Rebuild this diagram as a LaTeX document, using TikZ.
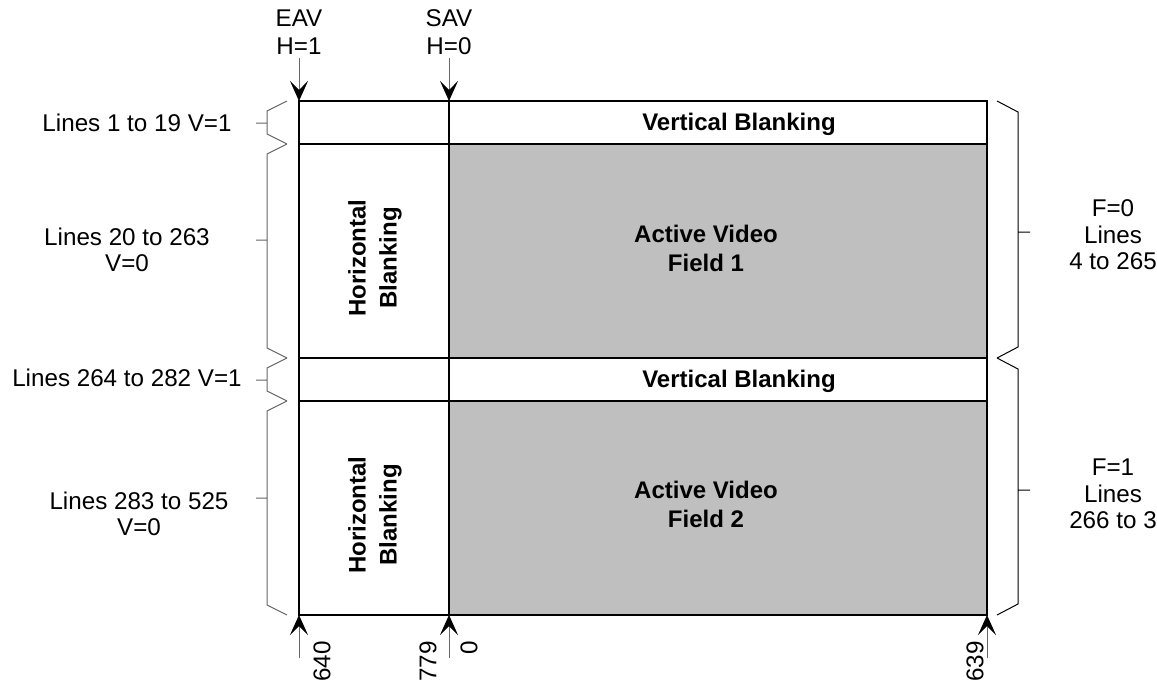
\documentclass[tikz,border=0pt]{standalone}
\usepackage{fontspec}
\setmainfont{Liberation Sans}
\usetikzlibrary{arrows.meta}

\begin{document}
\begin{tikzpicture}[x=0.5pt,y=-0.5pt,
	every node/.style={font=\fontsize{12.1}{13.3}\selectfont,align=center,inner sep=0pt},
	lbl/.style={font=\fontsize{12}{14.5}\selectfont\bfseries},
	area/.style={draw=black,line width=0.8pt},
	brace/.style={draw=black!60,line width=0.5pt},
	rbrace/.style={draw=black,line width=0.5pt},
	pointer/.style={draw=black!60,line width=0.5pt,-{Stealth[length=10pt,width=9pt,inset=4.5pt,color=black]}}]
\useasboundingbox (0,0) rectangle (1157,686);

\coordinate (tl) at (299,101);
\coordinate (tm) at (449,101);
\coordinate (bl) at (299,615);
\coordinate (bm) at (449,615);
\coordinate (br) at (987,615);

\fill[black!25] (449,144) rectangle (987,358) (449,401) rectangle (987,615);
\draw[area] (tl) rectangle (987,101 |- br);
\draw[area] (299,144) -- (987,144) (299,358) -- (987,358) (299,401) -- (987,401);
\draw[area] (tm) -- (bm);

\node[lbl] (vb1) at (739,124) {Vertical Blanking};
\node[lbl] (vb2) at (739,381) {Vertical Blanking};
\node[lbl] (av1) at (706,248) {Active Video\\Field 1};
\node[lbl] (av2) at (706,504) {Active Video\\Field 2};
\node[lbl,rotate=90] (hb1) at (375,258) {Horizontal\\[1pt]Blanking};
\node[lbl,rotate=90] (hb2) at (375,515) {Horizontal\\[1pt]Blanking};

\node (eav) at (299,32) {EAV\\[1pt]H=1};
\node (sav) at (449,32) {SAV\\[1pt]H=0};
\coordinate (eavtail) at (299,58);
\coordinate (savtail) at (449,58);
\draw[pointer] (eavtail) -- (tl);
\draw[pointer] (savtail) -- (tm);

\foreach \n/\x in {l/299, m/449, r/987}
	\coordinate (tail\n) at (\x,658);
\draw[pointer] (taill) -- (bl);
\draw[pointer] (tailm) -- (bm);
\draw[pointer] (tailr) -- (br);
\node[rotate=90,anchor=east] (n640) at (322,641) {640};
\node[rotate=90,anchor=east] (n779) at (428,641) {779};
\node[rotate=90,anchor=east] (n0) at (469,641) {0};
\node[rotate=90,anchor=east] (n639) at (975,641) {639};

\foreach \t/\b/\m in {101/144/123, 144/358/240, 358/401/380, 401/615/498} {
	\draw[brace] (287,\t) -- (267,\t+10) -- (267,\b-10) -- (287,\b) (267,\m) -- (256,\m);
}
\node (l1) at (137,123) {Lines 1 to 19 V=1};
\node (l2) at (127,250) {Lines 20 to 263\\V=0};
\node (l3) at (127,378) {Lines 264 to 282 V=1};
\node (l4) at (139,514) {Lines 283 to 525\\V=0};

\foreach \t/\b/\m in {101/358/232, 358/615/490} {
	\draw[rbrace] (997,\t) -- (1018,\t+11) -- (1018,\b-11) -- (997,\b) (1018,\m) -- (1030,\m);
}
\node (r1) at (1113,235) {F=0\\Lines\\4 to 265};
\node (r2) at (1113,494) {F=1\\Lines\\266 to 3};
\end{tikzpicture}
\end{document}
